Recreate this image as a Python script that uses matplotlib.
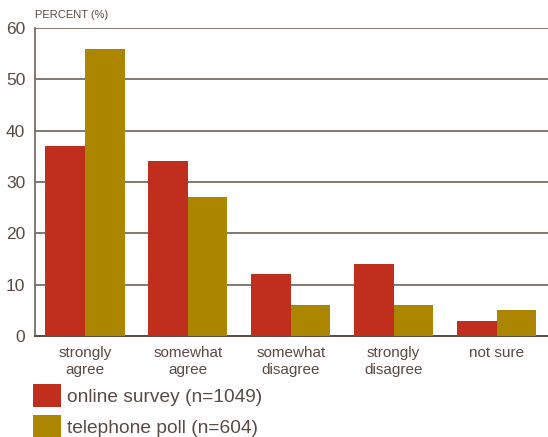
import matplotlib
matplotlib.use("Agg")
import matplotlib.pyplot as plt
import numpy as np

categories = ["strongly\nagree", "somewhat\nagree", "somewhat\ndisagree", "strongly\ndisagree", "not sure"]
online = [37, 34, 12, 14, 3]
telephone = [56, 27, 6, 6, 5]
series_labels = ["online survey (n=1049)", "telephone poll (n=604)"]
yticks = [0, 10, 20, 30, 40, 50, 60]

RED = "#C02E1D"
GOLD = "#AD8600"
TEXT = "#5A4A42"
GRID = "#6E625B"

plt.rcParams["font.family"] = ["Liberation Sans", "DejaVu Sans"]

fig = plt.figure(figsize=(5.48, 4.37), dpi=100)
ax = fig.add_axes([0.064, 0.231, 0.936, 0.705])

x = np.arange(len(categories))
w = 0.385
b1 = ax.bar(x - w / 2, online, width=w, color=RED, zorder=3)
b2 = ax.bar(x + w / 2, telephone, width=w, color=GOLD, zorder=3)

ax.set_xlim(-0.485, 4.5)
ax.set_ylim(0, 60)
ax.set_yticks(yticks)
ax.set_xticks(x)
ax.set_xticklabels(categories, fontsize=11, color=TEXT, linespacing=1.25)
ax.tick_params(axis="y", labelsize=12.5, colors=TEXT, length=0, pad=7)
ax.tick_params(axis="x", length=0, pad=7)
ax.yaxis.grid(True, color=GRID, linewidth=1.2, zorder=0)
for s in ["top", "right"]:
    ax.spines[s].set_visible(False)
ax.spines["left"].set_color(GRID)
ax.spines["left"].set_linewidth(1.2)
ax.spines["bottom"].set_color(TEXT)
ax.spines["bottom"].set_linewidth(1.4)

fig.text(0.064, 0.955, "PERCENT (%)", fontsize=8, color=TEXT, va="bottom", ha="left")

fig.legend([b1, b2], series_labels, loc="upper left", bbox_to_anchor=(0.06, 0.122),
           frameon=False, fontsize=13.8, labelcolor=TEXT, handlelength=1.45, handleheight=1.5,
           handletextpad=0.35, labelspacing=0.4, borderaxespad=0, borderpad=0)

fig.savefig("out.png", dpi=100)
